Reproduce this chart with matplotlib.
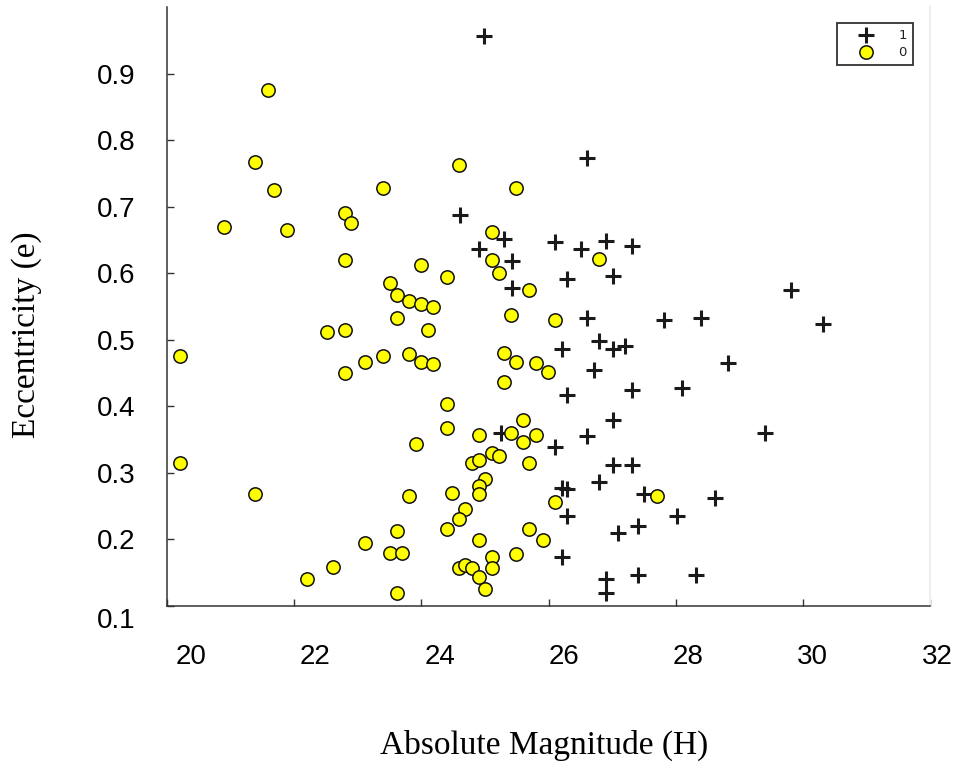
import matplotlib
matplotlib.use('Agg')
import matplotlib.pyplot as plt
import matplotlib.transforms as mtransforms
import numpy as np

# class 1 (plus markers): absolute magnitude H, eccentricity e
h1 = [24.99, 26.60, 24.61, 25.30, 24.91, 25.42, 25.42, 26.11, 26.51, 26.91,
      27.32, 26.29, 27.01, 29.82, 26.60, 27.82, 28.40, 30.31, 26.21, 26.79,
      27.01, 27.21, 28.82, 26.71, 26.29, 27.32, 28.10, 27.01, 25.26, 26.60,
      29.40, 26.11, 27.01, 27.32, 26.79, 26.21, 26.29, 27.50, 28.62, 26.29,
      28.02, 27.40, 27.10, 26.21, 26.91, 26.91, 27.40, 28.32]
e1 = [0.957, 0.773, 0.688, 0.652, 0.636, 0.618, 0.578, 0.647, 0.636, 0.649,
      0.641, 0.591, 0.596, 0.575, 0.532, 0.530, 0.533, 0.524, 0.486, 0.498,
      0.486, 0.491, 0.465, 0.454, 0.417, 0.425, 0.428, 0.379, 0.360, 0.355,
      0.360, 0.339, 0.312, 0.312, 0.286, 0.277, 0.276, 0.269, 0.262, 0.235,
      0.235, 0.220, 0.209, 0.173, 0.141, 0.119, 0.146, 0.146]

# class 0 (yellow circles)
h0 = [21.59, 21.39, 21.69, 20.90, 21.89, 22.80, 22.89, 22.80, 23.39, 24.60,
      25.49, 25.11, 25.11, 25.22, 25.70, 24.00, 24.41, 23.50, 23.61, 23.81,
      24.00, 24.18, 23.61, 25.41, 24.10, 22.51, 22.80, 20.20, 23.11, 23.39,
      23.81, 24.00, 24.18, 22.80, 25.30, 25.49, 25.30, 25.80, 25.99, 26.79,
      26.10, 24.41, 24.41, 24.91, 25.60, 25.41, 25.60, 25.80, 23.91, 20.20,
      25.11, 25.22, 24.79, 24.91, 25.70, 25.00, 24.91, 24.91, 21.39, 23.81,
      24.49, 24.69, 24.60, 24.41, 25.70, 23.61, 23.11, 23.50, 23.70, 24.91,
      25.91, 25.11, 25.11, 25.49, 22.61, 22.20, 24.60, 24.69, 24.80, 24.91,
      25.00, 23.61, 27.71, 26.10]
e0 = [0.876, 0.767, 0.725, 0.670, 0.665, 0.691, 0.676, 0.620, 0.728, 0.762,
      0.728, 0.662, 0.620, 0.600, 0.575, 0.612, 0.594, 0.586, 0.567, 0.559,
      0.554, 0.549, 0.532, 0.537, 0.515, 0.512, 0.515, 0.476, 0.467, 0.476,
      0.478, 0.467, 0.464, 0.450, 0.480, 0.467, 0.436, 0.465, 0.452, 0.622,
      0.529, 0.404, 0.367, 0.357, 0.379, 0.360, 0.346, 0.357, 0.344, 0.315,
      0.330, 0.325, 0.315, 0.320, 0.315, 0.291, 0.281, 0.268, 0.268, 0.265,
      0.270, 0.246, 0.230, 0.215, 0.215, 0.213, 0.194, 0.180, 0.180, 0.199,
      0.199, 0.173, 0.157, 0.178, 0.159, 0.141, 0.157, 0.161, 0.157, 0.144,
      0.125, 0.120, 0.265, 0.257]

xticks = [20, 22, 24, 26, 28, 30, 32]
yticks = [0.1, 0.2, 0.3, 0.4, 0.5, 0.6, 0.7, 0.8, 0.9]
ylabels = ['0.1', '0.2', '0.3', '0.4', '0.5', '0.6', '0.7', '0.8', '0.9']

fig = plt.figure(figsize=(9.57, 7.65), dpi=100)
ax = fig.add_axes([167/957, 1-606/765, 763/957, 599/765])

ax.scatter(h1, e1, marker='+', s=11.5**2, linewidths=2.2, color='#1a1a1a', label='1', zorder=3)
ax.scatter(h0, e0, marker='o', s=9.6**2, facecolor='#ffff00', edgecolor='#111111',
           linewidths=1.1, label='0', zorder=4)

ax.set_xlim(20, 32)
ax.set_ylim(0.1, 1.0)
ax.set_xticks(xticks)
ax.set_yticks(yticks)
ax.set_yticklabels(ylabels)
ax.tick_params(direction='in', length=5, width=1, color='#333333', labelsize=20)
ax.tick_params(axis='x', pad=27)
ax.tick_params(axis='y', pad=23)
for lab in ax.get_xticklabels() + ax.get_yticklabels():
    lab.set_fontfamily('Liberation Sans')

# tick labels in the original sit a bit off their ticks:
# x labels drift right (more on the left end), the 0.1 label sits lower
for i, lab in enumerate(ax.get_xticklabels()):
    dx = (24 - 2.8 * i) / 100
    lab.set_transform(lab.get_transform() + mtransforms.ScaledTranslation(dx, 0, fig.dpi_scale_trans))
lab0 = ax.get_yticklabels()[0]
lab0.set_transform(lab0.get_transform() + mtransforms.ScaledTranslation(0, -0.12, fig.dpi_scale_trans))

ax.spines['top'].set_visible(False)
ax.spines['right'].set_color('#eeeeee')
ax.spines['right'].set_linewidth(1.5)
for s in ['left', 'bottom']:
    ax.spines[s].set_color('#333333')
    ax.spines[s].set_linewidth(1.1)

leg = ax.legend(loc='upper right', bbox_to_anchor=(913/957, 1-23/765),
                bbox_transform=fig.transFigure, borderaxespad=0, fancybox=False,
                edgecolor='#333333', fontsize=9.5, handletextpad=0.7, borderpad=0.45,
                labelspacing=0.3, handlelength=3.5, framealpha=1, scatterpoints=1)
leg.get_frame().set_linewidth(1.3)
for t in leg.get_texts():
    t.set_color('#222222')

fig.text(544/957, 1-745/765, 'Absolute Magnitude (H)', family='Liberation Serif',
         fontsize=24, ha='center', va='center')
fig.text(27/957, 1-335/765, 'Eccentricity (e)', family='Liberation Serif',
         fontsize=24, rotation=90, ha='center', va='center')

fig.savefig('out.png', dpi=100)
